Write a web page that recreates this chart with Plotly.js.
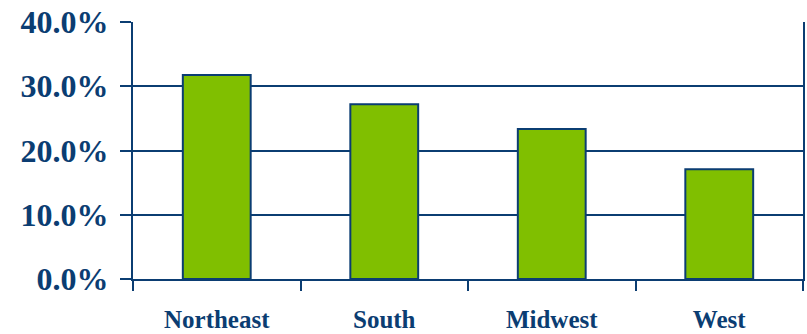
<!DOCTYPE html>
<html>
<head>
<meta charset="utf-8">
<script src="https://cdn.plot.ly/plotly-3.0.1.min.js"></script>
<style>html,body{margin:0;padding:0;background:#fff;}#chart{width:807px;height:334px;}</style>
</head>
<body>
<div id="chart"></div>
<script>
const regions = ["Northeast", "South", "Midwest", "West"];
const shares = [0.3175, 0.272, 0.2335, 0.171];
const yTickVals = [0, 0.1, 0.2, 0.3, 0.4];
const yTickText = ["0.0%", "10.0%", "20.0%", "30.0%", "40.0%"];

const navy = "#0b3d72";
const trace = {
  type: "bar",
  x: regions,
  y: shares,
  marker: {color: "#80bf00", line: {color: navy, width: 2}},
  hoverinfo: "skip"
};
const layout = {
  width: 807, height: 334,
  margin: {l: 133, r: 4, t: 22, b: 55},
  paper_bgcolor: "#fff", plot_bgcolor: "#fff",
  bargap: 0.595,
  showlegend: false,
  font: {family: "Liberation Serif, Times New Roman, serif", color: navy},
  xaxis: {
    type: "category",
    tickson: "boundaries",
    ticks: "outside", ticklen: 10, tickwidth: 2, tickcolor: navy,
    showline: true, linecolor: navy, linewidth: 2,
    showgrid: false,
    tickfont: {family: "Liberation Serif", size: 25, color: navy, weight: "bold"},
    ticklabelstandoff: 17
  },
  yaxis: {
    range: [0, 0.4],
    tickvals: yTickVals, ticktext: yTickText,
    ticks: "outside", ticklen: 11, tickwidth: 2, tickcolor: navy,
    showline: true, linecolor: navy, linewidth: 2, mirror: true,
    showgrid: true, gridcolor: navy, gridwidth: 2,
    zeroline: false,
    tickfont: {family: "Liberation Serif", size: 32, color: navy, weight: "bold"},
    ticklabelstandoff: 5
  }
};
Plotly.newPlot("chart", [trace], layout, {staticPlot: true, displayModeBar: false});
</script>
</body>
</html>
